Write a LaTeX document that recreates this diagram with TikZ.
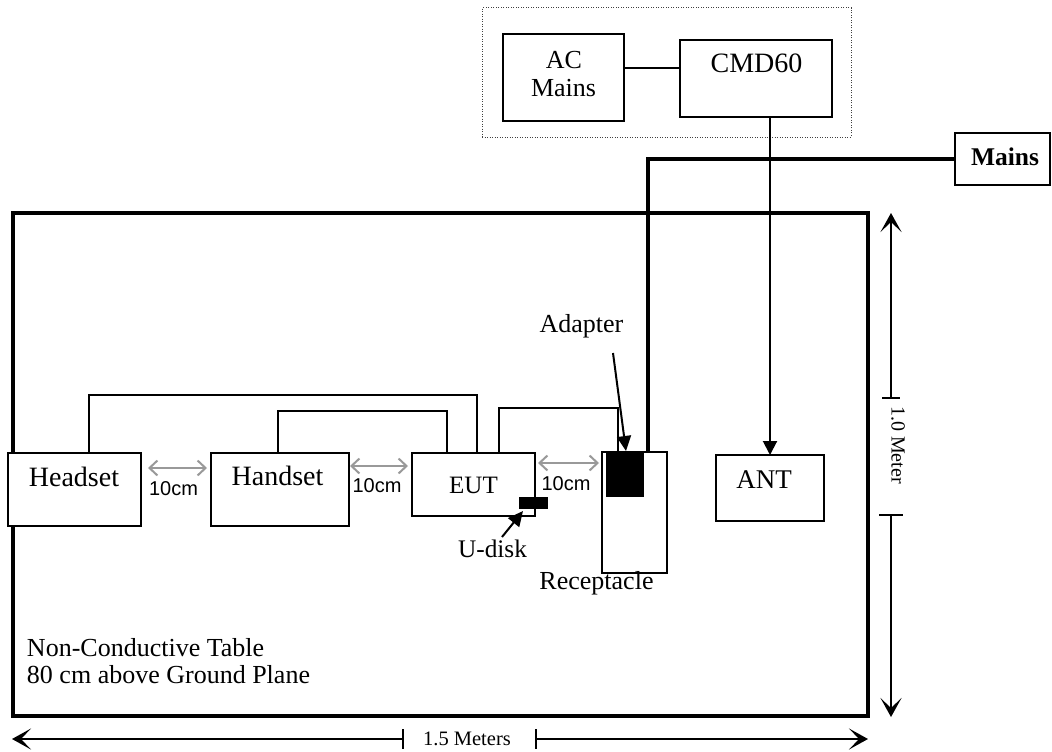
\documentclass[tikz,border=0pt]{standalone}
\usepackage{fontspec}
\setmainfont{Liberation Serif}
\newfontfamily\labsans{Liberation Sans}
\usetikzlibrary{arrows.meta,calc}
\begin{document}
\begin{tikzpicture}[x=1pt,y=-1pt,
  box/.style={draw, line width=2pt, fill=white, inner sep=0pt, outer sep=0pt},
  blk/.style={draw, fill=black, line width=0.5pt, inner sep=0pt, outer sep=0pt},
  cable/.style={line width=2pt},
  thickcable/.style={line width=4pt},
  lab/.style={anchor=base, inner sep=0pt, outer sep=0pt},
  fA/.style={font=\fontsize{28}{30}\selectfont},
  fB/.style={font=\fontsize{26}{28}\selectfont},
  fC/.style={font=\labsans\fontsize{20}{22}\selectfont},
  fD/.style={font=\fontsize{20.5}{22}\selectfont},
  grayarrow/.style={draw=black!40, line width=2pt, {Straight Barb[length=8pt,width=15pt]}-{Straight Barb[length=8pt,width=15pt]}},
  ptr/.style={line width=2pt, -{Triangle[length=15pt,width=14pt]}},
  dim/.style={line width=1.8pt, -{Stealth[length=19pt,width=21pt,inset=10pt]}},
  dimline/.style={line width=1.8pt}
]
\useasboundingbox (0,0) rectangle (1052,752);

% dotted group
\node[draw=black!75, line width=1pt, dash pattern=on 1pt off 1.5pt, minimum width=369, minimum height=129, inner sep=0pt] (grp) at (666.5,72.5) {};

% table
\node[draw, line width=4pt, minimum width=855, minimum height=503, inner sep=0pt, outer sep=0pt] (table) at (440.5,464.5) {};

% boxes
\node[box, minimum width=121, minimum height=87] (acm) at (563.5,77.5) {};
\node[box, minimum width=152, minimum height=77] (cmd) at (756,78.5) {};
\node[box, minimum width=95, minimum height=52] (mainsbx) at (1002.5,159) {};
\node[box, minimum width=65, minimum height=121] (recep) at (634.5,512.5) {};
\node[box, minimum width=108, minimum height=66] (ant) at (770,488) {};
\node[box, minimum width=133, minimum height=73] (headset) at (74.5,489.5) {};
\node[box, minimum width=138, minimum height=73] (handset) at (280,489.5) {};
\node[box, minimum width=123, minimum height=63] (eut) at (473.5,484.5) {};
\node[blk, minimum width=28, minimum height=11] (udisk) at (533,502.5) {};
\node[blk, minimum width=37, minimum height=43] (adapter) at (624.5,474.5) {};

\draw[cable] ([xshift=14.5pt]headset.north) -- ++(0,-58) -| ([xshift=3.5pt]eut.north);
\draw[cable] ([xshift=-2pt]handset.north) -- ++(0,-42) -| ([xshift=-26.5pt]eut.north);
\draw[cable] ([xshift=25.5pt]eut.north) -- ++(0,-45) -| ([xshift=-6.5pt]adapter.north);
\draw[thickcable] (mainsbx.west) -| ([xshift=13.5pt]recep.north);
\draw[cable] ([yshift=9.5pt]acm.east) -- ([yshift=10.5pt]cmd.west);
\draw[cable, -{Triangle[length=14pt,width=14pt]}] ([xshift=14pt]cmd.south) -- (ant.north);

% 10cm spacing arrows
\draw[grayarrow, shorten <=7pt, shorten >=4pt] ([yshift=21.5pt]headset.east) -- ([yshift=21.5pt]handset.west);
\draw[grayarrow, shorten <=1pt, shorten >=4pt] ([yshift=23.5pt]handset.east) -- ([yshift=18.5pt]eut.west);
\draw[grayarrow, shorten <=3pt, shorten >=3pt] ([yshift=21.5pt]eut.east) -- ([yshift=49.5pt]recep.west);

% pointers
\coordinate (adfrom) at (613,353);
\draw[ptr] (adfrom) -- ([xshift=1.5pt,yshift=2pt]adapter.north);
\coordinate (udfrom) at (502,537);
\draw[ptr] (udfrom) -- ([xshift=-10pt,yshift=-3pt]udisk.south);

% dimensions
\coordinate (vt) at (891,213);
\coordinate (vk1) at (891,398);
\coordinate (vk2) at (891,515);
\coordinate (vb) at (891,717);
\draw[dim] (vk1) -- (vt);
\draw[dim] (vk2) -- (vb);
\draw[dimline] ([xshift=-9pt]vk1) -- ([xshift=9pt]vk1);
\draw[dimline] ([xshift=-12pt]vk2) -- ([xshift=12pt]vk2);
\coordinate (hl) at (12,739);
\coordinate (hk1) at (403,739);
\coordinate (hk2) at (536,739);
\coordinate (hr) at (868,739);
\draw[dim] (hk1) -- (hl);
\draw[dim] (hk2) -- (hr);
\draw[dimline] ([yshift=10pt]hk1) -- ([yshift=-10pt]hk1);
\draw[dimline] ([yshift=10pt]hk2) -- ([yshift=-10pt]hk2);

% labels
\node[lab, fB] (tAC) at (564,68) {AC};
\node[lab, fB] (tACm) at (563.5,96) {Mains};
\node[lab, fA] (tCMD) at (756.5,73) {CMD60};
\node[lab, font=\bfseries\fontsize{25.5}{28}\selectfont] (tMains) at (1005,165) {Mains};
\node[lab, fA] (tHead) at (74,486) {Headset};
\node[lab, fA] (tHand) at (277.5,485) {Handset};
\node[lab, font=\fontsize{25}{28}\selectfont] (tEUT) at (473.5,493) {EUT};
\node[lab, font=\fontsize{27}{28}\selectfont] (tANT) at (764,488) {ANT};
\node[lab, fB] (tAd) at (581.5,332) {Adapter};
\node[lab, font=\fontsize{25.3}{28}\selectfont] (tUd) at (492.5,557) {U-disk};
\node[lab, fB] (tRec) at (596.5,589) {Receptacle};
\node[lab, fC] (t10a) at (173.5,495) {10cm};
\node[lab, fC] (t10b) at (377,492) {10cm};
\node[lab, fC] (t10c) at (566,490) {10cm};
\node[lab, fB, anchor=base west] (tNon) at (27,656) {Non-Conductive Table};
\node[lab, fB, anchor=base west] (tGnd) at (27,683) {80 cm above Ground Plane};
\node[lab, fD] (t15) at (467,745) {1.5 Meters};
\node[inner sep=0pt, rotate=-90, font=\fontsize{20}{22}\selectfont] (t10m) at (898,445) {1.0 Meter};
\end{tikzpicture}
\end{document}
